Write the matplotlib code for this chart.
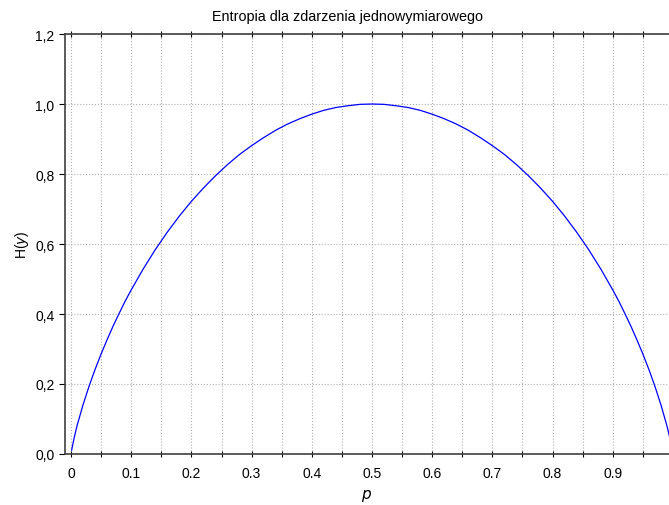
import matplotlib.pyplot as plt
from matplotlib.ticker import MultipleLocator, FuncFormatter

plt.rcParams['font.family'] = ['Liberation Sans', 'DejaVu Sans']

# values
p = [0.001, 0.005, 0.01, 0.02, 0.03, 0.04, 0.05, 0.06, 0.07, 0.08, 0.09, 0.10,
     0.12, 0.14, 0.16, 0.18, 0.20, 0.22, 0.24, 0.26, 0.28, 0.30, 0.32, 0.34,
     0.36, 0.38, 0.40, 0.42, 0.44, 0.46, 0.48, 0.50, 0.52, 0.54, 0.56, 0.58,
     0.60, 0.62, 0.64, 0.66, 0.68, 0.70, 0.72, 0.74, 0.76, 0.78, 0.80, 0.82,
     0.84, 0.86, 0.88, 0.90, 0.91, 0.92, 0.93, 0.94, 0.95, 0.96, 0.97, 0.98,
     0.99, 0.995, 0.999]
h = [0.011, 0.045, 0.081, 0.141, 0.194, 0.242, 0.286, 0.327, 0.366, 0.402, 0.437, 0.469,
     0.529, 0.584, 0.634, 0.680, 0.722, 0.760, 0.795, 0.827, 0.856, 0.881, 0.904, 0.925,
     0.943, 0.958, 0.971, 0.982, 0.990, 0.995, 0.999, 1.000, 0.999, 0.995, 0.990, 0.982,
     0.971, 0.958, 0.943, 0.925, 0.904, 0.881, 0.856, 0.827, 0.795, 0.760, 0.722, 0.680,
     0.634, 0.584, 0.529, 0.469, 0.437, 0.402, 0.366, 0.327, 0.286, 0.242, 0.194, 0.141,
     0.081, 0.045, 0.011]

fig = plt.figure(figsize=(6.69, 5.06), dpi=100)
ax = fig.add_axes([0.0972, 0.1008, 0.9028, 0.83])

ax.plot(p, h, color='#0000ff', lw=0.9)

ax.set_xlim(-0.01, 0.9935)
ax.set_ylim(0, 1.2)

ax.xaxis.set_major_locator(MultipleLocator(0.1))
ax.xaxis.set_minor_locator(MultipleLocator(0.05))
ax.yaxis.set_major_locator(MultipleLocator(0.2))
ax.xaxis.set_major_formatter(FuncFormatter(lambda v, pos: '0' if abs(v) < 1e-9 else f'{v:.1f}'))
ax.yaxis.set_major_formatter(FuncFormatter(lambda v, pos: f'{v:.1f}'.replace('.', ',')))

ax.grid(True, which='both', axis='x', color='#b0b0b0', ls=':', lw=0.8)
ax.grid(True, which='major', axis='y', color='#b0b0b0', ls=':', lw=0.8)

ax.tick_params(axis='x', which='both', direction='inout', top=True, length=5, width=0.8, labelsize=10, pad=6)
ax.tick_params(axis='y', which='both', direction='out', length=4, width=0.8, labelsize=10)
for s in ['left', 'bottom', 'top']:
    ax.spines[s].set_color('#404040')
    ax.spines[s].set_linewidth(1.2)
ax.spines['right'].set_visible(False)

ax.set_xlabel('$p$', fontsize=11, labelpad=5)
ax.set_ylabel('H($y$)', fontsize=10, labelpad=3)
fig.text(347.5 / 669, 1 - 21 / 506, 'Entropia dla zdarzenia jednowymiarowego',
         fontsize=10.4, ha='center', va='baseline')

fig.savefig('out.png', dpi=100)
